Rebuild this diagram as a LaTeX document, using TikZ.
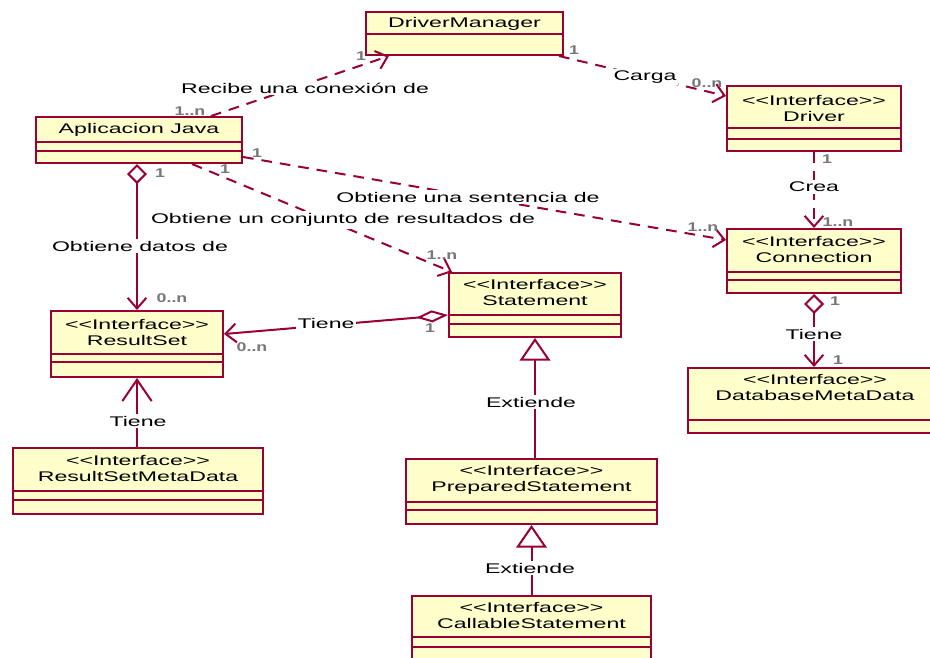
\documentclass[tikz,border=0pt]{standalone}
\usepackage{graphicx}
\usepackage{fontspec}
\setmainfont{Liberation Sans}[Ligatures=TeXOff]
\usetikzlibrary{arrows.meta,calc,fit}

\definecolor{umlline}{HTML}{990033}
\definecolor{umlfill}{HTML}{FFFFCC}
\definecolor{multgray}{HTML}{777777}

% wide-set text, as the modelling tool prints it
\newcommand\wide[1]{\scalebox{1.65}[1]{#1}}
\newcommand\mwide[1]{\scalebox{1.4}[1]{#1}}

% #1 name, #2 x1, #3 y1, #4 x2, #5 y2, #6 separator ys, #7 title y, #8 title
\newcommand\umlclass[8]{%
  \node[classbox, fit={(#2,#3) (#4,#5)}] (#1) {};
  \foreach \sy in {#6} {\draw[umlsep] (#2,\sy) -- (#4,\sy);}
  \node[classtitle] (#1-title) at ({(#2+#4)/2},#7) {#8};
}

\begin{document}
\begin{tikzpicture}[x=0.75pt,y=-0.75pt,
  classbox/.style={draw=umlline, fill=umlfill, line width=1.5pt, inner sep=0pt},
  umlsep/.style={draw=umlline, line width=1.2pt},
  classtitle/.style={align=center, inner sep=0pt, font=\fontsize{10.5}{12}\selectfont},
  lbl/.style={fill=white, inner sep=1.5pt, font=\fontsize{10.5}{12}\selectfont},
  mult/.style={inner sep=0pt, text=multgray, font=\fontsize{9.5}{11}\selectfont\bfseries},
  conn/.style={draw=umlline, line width=1.5pt},
  dep/.style={conn, dash pattern=on 8pt off 6pt},
  nav/.style={-{Straight Barb[length=8pt,width=14pt]}},
  aggnav/.style={{Diamond[fill=white,length=15pt,width=15pt]}-{Straight Barb[length=8pt,width=14pt]}},
  flatagg/.style={{Diamond[fill=white,length=24pt,width=9pt]}-{Straight Barb[length=8pt,width=14pt]}},
  widebarb/.style={-{Straight Barb[length=16pt,width=22pt]}},
  gen/.style={-{Triangle[fill=white,length=17pt,width=23pt]}}]

\fill[white] (0,0) rectangle (930,657);
\useasboundingbox (0,0) rectangle (930,657);

% classes
\umlclass{dm}{366}{12}{563}{55}{34}{24}{\wide{DriverManager}}
\umlclass{app}{36}{117}{242}{163}{142,151}{130}{\wide{Aplicacion Java}}
\umlclass{drv}{727}{86}{901}{151}{128,139}{108.5}{\wide{<<Interface>>}\\\wide{Driver}}
\umlclass{con}{727}{229}{901}{293}{272,280}{249.5}{\wide{<<Interface>>}\\\wide{Connection}}
\umlclass{st}{449}{273}{621}{337}{315,324}{292.5}{\wide{<<Interface>>}\\\wide{Statement}}
\umlclass{rs}{51}{311}{223}{377}{354,362}{332}{\wide{<<Interface>>}\\\wide{ResultSet}}
\umlclass{dmd}{688}{368}{942}{433}{420}{387}{\wide{<<Interface>>}\\\wide{DatabaseMetaData}}
\umlclass{rsmd}{13}{448}{263}{514}{491,500}{468.5}{\wide{<<Interface>>}\\\wide{ResultSetMetaData}}
\umlclass{ps}{406}{459}{657}{524}{502,510}{479.5}{\wide{<<Interface>>}\\\wide{PreparedStatement}}
\umlclass{cs}{412}{596}{651}{670}{637,647}{615.5}{\wide{<<Interface>>}\\\wide{CallableStatement}}

% dependencies
\draw[dep, nav] ($(app.north west)+(176,0)$) -- ($(dm.south west)+(24,0)$);
\draw[dep, nav] ($(dm.south east)+(-5,0)$) -- ($(drv.north west)+(0,11)$);
\draw[dep, nav] (drv.south) -- (con.north);
\draw[dep, nav] ($(app.north east)+(0,41)$) -- ($(con.north west)+(0,12)$);
\draw[dep, nav] ($(app.south west)+(157,0)$) -- ($(st.north west)+(4,0)$);

% aggregations
\draw[conn, aggnav] (rs.north |- app.south) -- (rs.north);
\draw[conn, flatagg] ($(st.north west)+(0,43)$) -- ($(rs.north east)+(0,24)$);
\draw[conn, aggnav] (con.south) -- (con.south |- dmd.north);
\draw[conn, widebarb] (rs.south |- rsmd.north) -- (rs.south);

% generalizations
\draw[conn, gen] (st.south |- ps.north) -- (st.south);
\draw[conn, gen] (ps.south |- cs.north) -- (ps.south);

% association labels
\node[lbl] (l-recibe) at (305,88) {\wide{Recibe una conexión de}};
\node[lbl] (l-carga) at (645,77) {\wide{Carga}};
\node[lbl] (l-crea) at (814,187) {\wide{Crea}};
\node[lbl] (l-sent) at (468,197) {\wide{Obtiene una sentencia de}};
\node[lbl] (l-conj) at (343,220) {\wide{Obtiene un conjunto de resultados de}};
\node[lbl] (l-datos) at (140,246) {\wide{Obtiene datos de}};
\node[lbl] (l-tiene1) at (326,323) {\wide{Tiene}};
\node[lbl] (l-tiene2) at (814,334) {\wide{Tiene}};
\node[lbl] (l-tiene3) at (138,421) {\wide{Tiene}};
\node[lbl] (l-ext1) at (531,402) {\wide{Extiende}};
\node[lbl] (l-ext2) at (530,568) {\wide{Extiende}};

% multiplicities
\node[mult] (m1) at (190,111) {\mwide{1..n}};
\node[mult] (m2) at (361,56) {\mwide{1}};
\node[mult] (m3) at (574,50) {\mwide{1}};
\node[mult] (m4) at (707,83) {\mwide{0..n}};
\node[mult] (m5) at (827,159) {\mwide{1}};
\node[mult] (m6) at (838,222) {\mwide{1..n}};
\node[mult] (m7) at (257,153) {\mwide{1}};
\node[mult] (m8) at (703,227) {\mwide{1..n}};
\node[mult] (m9) at (225,169) {\mwide{1}};
\node[mult] (m10) at (442,255) {\mwide{1..n}};
\node[mult] (m11) at (160,173) {\mwide{1}};
\node[mult] (m12) at (172,298) {\mwide{0..n}};
\node[mult] (m13) at (430,328) {\mwide{1}};
\node[mult] (m14) at (252,347) {\mwide{0..n}};
\node[mult] (m15) at (835,301) {\mwide{1}};
\node[mult] (m16) at (838,360) {\mwide{1}};
\end{tikzpicture}
\end{document}
